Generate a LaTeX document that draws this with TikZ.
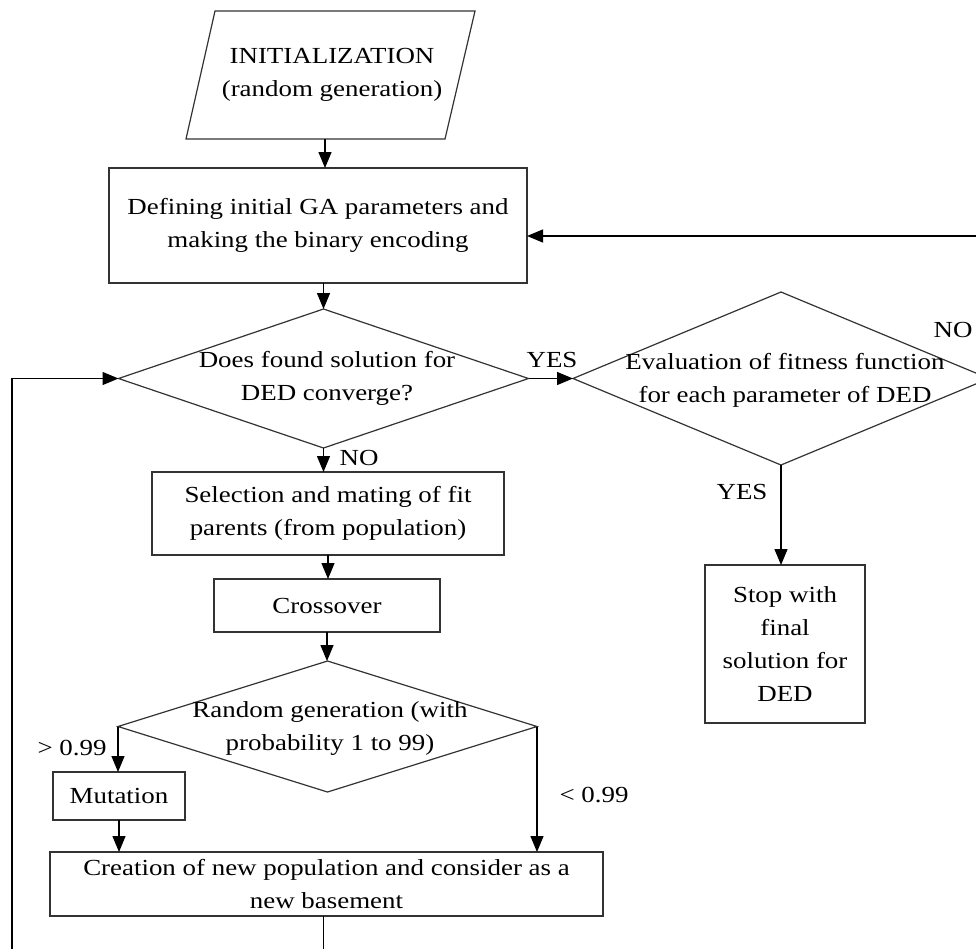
\documentclass[tikz,border=0pt]{standalone}
\usepackage{fontspec}
\setmainfont[FakeStretch=1.17]{Liberation Serif}
\usetikzlibrary{shapes.geometric,arrows.meta}

\begin{document}
\begin{tikzpicture}[x=1pt,y=-1pt,
  every node/.style={font=\fontsize{23}{33}\selectfont, inner sep=0pt, outer sep=0pt},
  procbox/.style={draw=black!80, line width=1.2pt, rectangle, align=center},
  decide/.style={draw=black!80, line width=1.2pt, diamond},
  txt/.style={align=center},
  flow/.style={draw=black, line width=1.3pt, -{Triangle[length=16pt,width=13pt]}}
]
\useasboundingbox[fill=white] (0,0) rectangle (976,948);

% start: input parallelogram
\draw[draw=black!80, line width=1.2pt] (215,11) -- (475,11) -- (445,139) -- (186,139) -- cycle;
\node[txt] (init) at (332,75) {INITIALIZATION\\(random generation)};
\coordinate (initout) at (325,139);

% process boxes
\node[procbox, minimum width=418pt, minimum height=115pt] (define) at (318,225.5)
  {Defining initial GA parameters and\\making the binary encoding};
\node[procbox, minimum width=352pt, minimum height=83pt] (sel) at (328,513.5)
  {Selection and mating of fit\\parents (from population)};
\node[procbox, minimum width=226pt, minimum height=53pt] (cross) at (327,605.5) {Crossover};
\node[procbox, minimum width=132pt, minimum height=48pt] (mut) at (119,796) {Mutation};
\node[procbox, minimum width=553pt, minimum height=64pt] (create) at (326.5,884)
  {Creation of new population and consider as a\\new basement};
\node[procbox, minimum width=160pt, minimum height=158pt] (stop) at (785,644)
  {Stop with\\final\\solution for\\DED};

% decisions
\node[decide, minimum width=410pt, minimum height=139pt] (conv) at (323.5,378.5) {};
\node[txt] (convtext) at (327,378) {Does found solution for\\DED converge?};
\node[decide, minimum width=416pt, minimum height=173pt] (eval) at (781,378.5) {};
\node[txt] (evaltext) at (785,380) {Evaluation of fitness function\\for each parameter of DED};
\node[decide, minimum width=419pt, minimum height=131pt] (rand) at (327.5,726.5) {};
\node[txt] (randtext) at (330,728.5) {Random generation (with\\probability 1 to 99)};

% helper points for the feedback loops
\coordinate (backrow) at (0,236);
\coordinate (loopcorner) at (12,962);

% connectors
\draw[flow] (initout) -- (initout |- define.north);
\draw[flow] (define.south -| conv.north) -- (conv.north);
\draw[flow] (conv.east) -- (conv.east -| eval.west);
\draw[flow] (conv.south) -- (conv.south |- sel.north);
\draw[flow] (sel.south) -- (sel.south |- cross.north);
\draw[flow] (cross.south) -- (cross.south |- rand.north);
\draw[flow] (rand.west) -- (rand.west |- mut.north);
\draw[flow] (mut.south) -- (mut.south |- create.north);
\draw[flow] (rand.east) -- (rand.east |- create.north);
\draw[flow] (eval.south) -- (eval.south |- stop.north);
\draw[flow] (eval.east) |- (define.east |- backrow);
\draw[flow] (create.south -| conv.south) |- (loopcorner) |- (conv.west);

% branch labels
\node (yes1) at (552,360) {YES};
\node (no1) at (359,458) {NO};
\node (no2) at (953,330) {NO};
\node (yes2) at (742,492) {YES};
\node (gt) at (72,748) {> 0.99};
\node (lt) at (594,795) {< 0.99};
\end{tikzpicture}
\end{document}
